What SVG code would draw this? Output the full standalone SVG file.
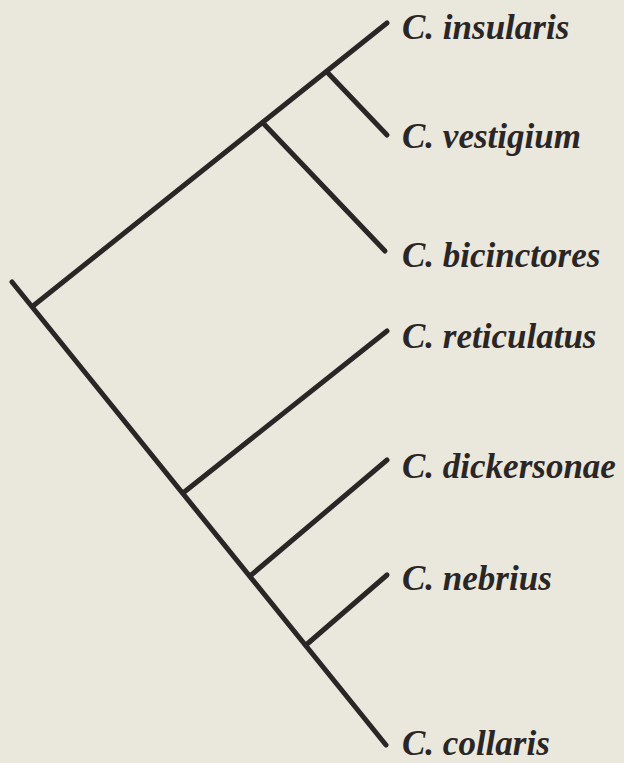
<svg xmlns="http://www.w3.org/2000/svg" width="624" height="763" viewBox="0 0 624 763">
<style>
.br{stroke:#2a2626;stroke-width:5;stroke-linecap:round;fill:none}
.lb{font-family:"Liberation Serif","Times New Roman",serif;font-style:italic;font-weight:bold;font-size:35px;fill:#2a2626}
</style>
<rect width="624" height="763" fill="#eae7dc"/>
<g id="connectors">
<line class="br" x1="12" y1="282" x2="386" y2="745"/>
<line class="br" x1="33" y1="306" x2="387" y2="23"/>
<line class="br" x1="263" y1="123" x2="385" y2="251"/>
<line class="br" x1="327" y1="72" x2="387" y2="135"/>
<line class="br" x1="183" y1="493" x2="387" y2="331"/>
<line class="br" x1="250" y1="576" x2="387" y2="460"/>
<line class="br" x1="306" y1="645" x2="387" y2="575"/>
</g>
<g id="n-insularis"><text class="lb" x="402" y="39">C. insularis</text></g>
<g id="n-vestigium"><text class="lb" x="402" y="148">C. vestigium</text></g>
<g id="n-bicinctores"><text class="lb" x="402" y="267">C. bicinctores</text></g>
<g id="n-reticulatus"><text class="lb" x="402" y="348">C. reticulatus</text></g>
<g id="n-dickersonae"><text class="lb" x="402" y="478">C. dickersonae</text></g>
<g id="n-nebrius"><text class="lb" x="402" y="590">C. nebrius</text></g>
<g id="n-collaris"><text class="lb" x="402" y="755">C. collaris</text></g>
</svg>
